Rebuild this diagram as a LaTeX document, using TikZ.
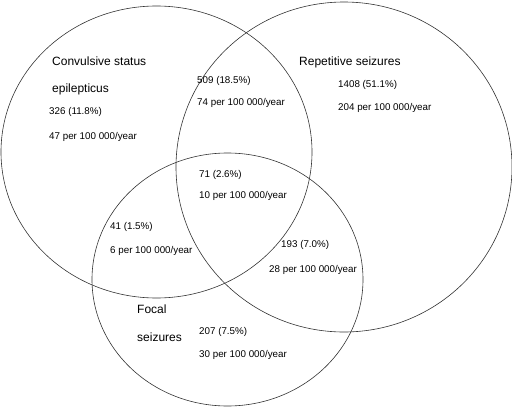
\documentclass[tikz,border=0pt]{standalone}
\usepackage{fontspec}
\setmainfont{Liberation Sans}
\usetikzlibrary{
  shapes.geometric,
  positioning
}

\begin{document}
\begin{tikzpicture}[
      x=1pt, y=-1pt,
      set/.style={
         ellipse,
         draw=black!80,
         line width=0.6pt,
         inner sep=0pt
      },
      title/.style={
         anchor=west,
         inner sep=0pt,
         font=\fontsize{12}{14}\selectfont,
         text height=8.5pt,
         text depth=2.5pt
      },
      count/.style={
         anchor=west,
         inner sep=0pt,
         font=\fontsize{9.8}{12}\selectfont,
         text height=7pt,
         text depth=2pt
      }
    ]
    \useasboundingbox (0,0) rectangle (512,407);
    % the three sets
    \node (cse) [set, minimum width=311pt, minimum height=292pt] at (156.5,152) {};
    \node (rep) [set, minimum width=336pt, minimum height=330pt] at (344,167) {};
    \node (foc) [set, minimum width=271pt, minimum height=253pt] at (227.5,279.5) {};
    % convulsive status epilepticus only
    \node (cseA) [title] at (52,62) {Convulsive status};
    \node (cseB) [title] at (52,89) {epilepticus};
    \node (cseN) [count] at (49,112) {326 (11.8\%)};
    \node (cseR) [count] at (49,137) {47 per 100 000/year};
    % repetitive seizures only
    \node (repA) [title] at (299,62) {Repetitive seizures};
    \node (repN) [count] at (338,85) {1408 (51.1\%)};
    \node (repR) [count] at (338,108) {204 per 100 000/year};
    % focal seizures only
    \node (focA) [title] at (137,310) {Focal};
    \node (focB) [title] at (137,338) {seizures};
    \node (focN) [count] at (199,332) {207 (7.5\%)};
    \node (focR) [count] at (199,355) {30 per 100 000/year};
    % overlaps
    \node (crN) [count] at (197,81) {509 (18.5\%)};
    \node (crR) [count] at (197,103) {74 per 100 000/year};
    \node (allN) [count] at (199,175) {71 (2.6\%)};
    \node (allR) [count] at (199,196) {10 per 100 000/year};
    \node (cfN) [count] at (110,227) {41 (1.5\%)};
    \node (cfR) [count] at (110,251) {6 per 100 000/year};
    \node (rfN) [count] at (281,245) {193 (7.0\%)};
    \node (rfR) [count] at (269,270) {28 per 100 000/year};
\end{tikzpicture}
\end{document}
